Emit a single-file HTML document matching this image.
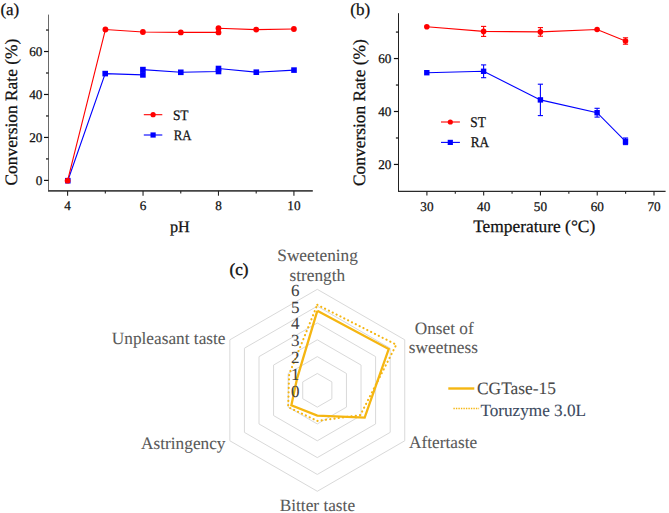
<!DOCTYPE html>
<html><head><meta charset="utf-8"><style>
html,body{margin:0;padding:0;background:#fff;width:669px;height:513px;overflow:hidden}
svg{display:block}
text{font-family:"Liberation Serif",serif;text-rendering:geometricPrecision}
</style></head><body>
<svg width="669" height="513" viewBox="0 0 669 513">
<rect width="669" height="513" fill="#fff"/>
<line x1="48.50" y1="14.60" x2="48.50" y2="191.00" stroke="#6a6a6a" stroke-width="1.0" />
<line x1="48.00" y1="190.90" x2="312.80" y2="190.90" stroke="#454545" stroke-width="1.6" />
<line x1="44.00" y1="180.40" x2="48.50" y2="180.40" stroke="#111" stroke-width="1.2" />
<text x="42.40" y="185.00" font-size="13.2" fill="#111" stroke="#111" stroke-width="0.25" text-anchor="end" >0</text>
<line x1="44.00" y1="137.44" x2="48.50" y2="137.44" stroke="#111" stroke-width="1.2" />
<text x="42.40" y="142.04" font-size="13.2" fill="#111" stroke="#111" stroke-width="0.25" text-anchor="end" >20</text>
<line x1="44.00" y1="94.48" x2="48.50" y2="94.48" stroke="#111" stroke-width="1.2" />
<text x="42.40" y="99.08" font-size="13.2" fill="#111" stroke="#111" stroke-width="0.25" text-anchor="end" >40</text>
<line x1="44.00" y1="51.52" x2="48.50" y2="51.52" stroke="#111" stroke-width="1.2" />
<text x="42.40" y="56.12" font-size="13.2" fill="#111" stroke="#111" stroke-width="0.25" text-anchor="end" >60</text>
<line x1="46.00" y1="158.92" x2="48.50" y2="158.92" stroke="#111" stroke-width="1.2" />
<line x1="46.00" y1="115.96" x2="48.50" y2="115.96" stroke="#111" stroke-width="1.2" />
<line x1="46.00" y1="73.00" x2="48.50" y2="73.00" stroke="#111" stroke-width="1.2" />
<line x1="46.00" y1="30.04" x2="48.50" y2="30.04" stroke="#111" stroke-width="1.2" />
<line x1="67.60" y1="190.90" x2="67.60" y2="195.70" stroke="#222" stroke-width="1.1" />
<text x="67.60" y="210.20" font-size="13.2" fill="#111" stroke="#111" stroke-width="0.25" text-anchor="middle" >4</text>
<line x1="143.04" y1="190.90" x2="143.04" y2="195.70" stroke="#222" stroke-width="1.1" />
<text x="143.04" y="210.20" font-size="13.2" fill="#111" stroke="#111" stroke-width="0.25" text-anchor="middle" >6</text>
<line x1="218.48" y1="190.90" x2="218.48" y2="195.70" stroke="#222" stroke-width="1.1" />
<text x="218.48" y="210.20" font-size="13.2" fill="#111" stroke="#111" stroke-width="0.25" text-anchor="middle" >8</text>
<line x1="293.92" y1="190.90" x2="293.92" y2="195.70" stroke="#222" stroke-width="1.1" />
<text x="293.92" y="210.20" font-size="13.2" fill="#111" stroke="#111" stroke-width="0.25" text-anchor="middle" >10</text>
<line x1="105.32" y1="190.90" x2="105.32" y2="193.60" stroke="#222" stroke-width="1.1" />
<line x1="180.76" y1="190.90" x2="180.76" y2="193.60" stroke="#222" stroke-width="1.1" />
<line x1="256.20" y1="190.90" x2="256.20" y2="193.60" stroke="#222" stroke-width="1.1" />
<text x="0.40" y="15.15" font-size="17" fill="#111" stroke="#111" stroke-width="0.25" text-anchor="start" >(a)</text>
<text x="179.90" y="232.40" font-size="16.2" fill="#111" stroke="#111" stroke-width="0.25" text-anchor="middle" >pH</text>
<text transform="translate(17.1,112.15) rotate(-90)" font-size="17.4" fill="#111" stroke="#111" stroke-width="0.25" text-anchor="middle">Conversion Rate (%)</text>
<polyline points="67.80,180.70 105.20,73.60 142.90,74.90 142.90,69.60 180.80,72.30 218.50,71.50 218.50,68.50 256.30,72.20 294.00,70.10" fill="none" stroke="#0000ff" stroke-width="1.1" stroke-linejoin="miter" />
<polyline points="67.60,180.70 105.40,29.50 142.90,32.00 180.80,32.40 218.50,32.40 218.50,28.20 256.20,29.60 293.90,29.00" fill="none" stroke="#ff0000" stroke-width="1.1" stroke-linejoin="miter" />
<rect x="65.00" y="177.90" width="5.6" height="5.6" fill="#0000ff"/>
<rect x="102.40" y="70.80" width="5.6" height="5.6" fill="#0000ff"/>
<rect x="140.10" y="72.10" width="5.6" height="5.6" fill="#0000ff"/>
<rect x="140.10" y="66.80" width="5.6" height="5.6" fill="#0000ff"/>
<rect x="178.00" y="69.50" width="5.6" height="5.6" fill="#0000ff"/>
<rect x="215.70" y="68.70" width="5.6" height="5.6" fill="#0000ff"/>
<rect x="215.70" y="65.70" width="5.6" height="5.6" fill="#0000ff"/>
<rect x="253.50" y="69.40" width="5.6" height="5.6" fill="#0000ff"/>
<rect x="291.20" y="67.30" width="5.6" height="5.6" fill="#0000ff"/>
<circle cx="67.60" cy="180.70" r="2.9" fill="#ff0000"/>
<circle cx="105.40" cy="29.50" r="2.9" fill="#ff0000"/>
<circle cx="142.90" cy="32.00" r="2.9" fill="#ff0000"/>
<circle cx="180.80" cy="32.40" r="2.9" fill="#ff0000"/>
<circle cx="218.50" cy="32.40" r="2.9" fill="#ff0000"/>
<circle cx="218.50" cy="28.20" r="2.9" fill="#ff0000"/>
<circle cx="256.20" cy="29.60" r="2.9" fill="#ff0000"/>
<circle cx="293.90" cy="29.00" r="2.9" fill="#ff0000"/>
<line x1="143.80" y1="114.70" x2="162.30" y2="114.70" stroke="#ff0000" stroke-width="1.1" />
<circle cx="153.10" cy="114.70" r="2.6" fill="#ff0000"/>
<text x="172.90" y="119.70" font-size="14.5" fill="#111" stroke="#111" stroke-width="0.25" text-anchor="start"  textLength="15.7" lengthAdjust="spacingAndGlyphs">ST</text>
<line x1="143.80" y1="135.00" x2="162.30" y2="135.00" stroke="#0000ff" stroke-width="1.1" />
<rect x="150.50" y="132.40" width="5.2" height="5.2" fill="#0000ff"/>
<text x="173.70" y="139.80" font-size="14.5" fill="#111" stroke="#111" stroke-width="0.25" text-anchor="start"  textLength="17.8" lengthAdjust="spacingAndGlyphs">RA</text>
<line x1="398.50" y1="13.20" x2="398.50" y2="192.00" stroke="#222" stroke-width="1.0" />
<line x1="398.00" y1="191.40" x2="665.60" y2="191.40" stroke="#2a2a2a" stroke-width="1.3" />
<line x1="393.90" y1="164.45" x2="398.50" y2="164.45" stroke="#111" stroke-width="1.2" />
<text x="391.40" y="169.15" font-size="13.2" fill="#111" stroke="#111" stroke-width="0.25" text-anchor="end" >20</text>
<line x1="393.90" y1="111.50" x2="398.50" y2="111.50" stroke="#111" stroke-width="1.2" />
<text x="391.40" y="116.20" font-size="13.2" fill="#111" stroke="#111" stroke-width="0.25" text-anchor="end" >40</text>
<line x1="393.90" y1="58.55" x2="398.50" y2="58.55" stroke="#111" stroke-width="1.2" />
<text x="391.40" y="63.25" font-size="13.2" fill="#111" stroke="#111" stroke-width="0.25" text-anchor="end" >60</text>
<line x1="395.90" y1="137.98" x2="398.50" y2="137.98" stroke="#111" stroke-width="1.2" />
<line x1="395.90" y1="85.03" x2="398.50" y2="85.03" stroke="#111" stroke-width="1.2" />
<line x1="395.90" y1="32.08" x2="398.50" y2="32.08" stroke="#111" stroke-width="1.2" />
<line x1="426.90" y1="191.40" x2="426.90" y2="195.50" stroke="#222" stroke-width="1.1" />
<text x="426.90" y="210.50" font-size="13.2" fill="#111" stroke="#111" stroke-width="0.25" text-anchor="middle" >30</text>
<line x1="483.67" y1="191.40" x2="483.67" y2="195.50" stroke="#222" stroke-width="1.1" />
<text x="483.67" y="210.50" font-size="13.2" fill="#111" stroke="#111" stroke-width="0.25" text-anchor="middle" >40</text>
<line x1="540.45" y1="191.40" x2="540.45" y2="195.50" stroke="#222" stroke-width="1.1" />
<text x="540.45" y="210.50" font-size="13.2" fill="#111" stroke="#111" stroke-width="0.25" text-anchor="middle" >50</text>
<line x1="597.23" y1="191.40" x2="597.23" y2="195.50" stroke="#222" stroke-width="1.1" />
<text x="597.23" y="210.50" font-size="13.2" fill="#111" stroke="#111" stroke-width="0.25" text-anchor="middle" >60</text>
<line x1="654.00" y1="191.40" x2="654.00" y2="195.50" stroke="#222" stroke-width="1.1" />
<text x="654.00" y="210.50" font-size="13.2" fill="#111" stroke="#111" stroke-width="0.25" text-anchor="middle" >70</text>
<line x1="455.29" y1="191.40" x2="455.29" y2="193.80" stroke="#222" stroke-width="1.1" />
<line x1="512.06" y1="191.40" x2="512.06" y2="193.80" stroke="#222" stroke-width="1.1" />
<line x1="568.84" y1="191.40" x2="568.84" y2="193.80" stroke="#222" stroke-width="1.1" />
<line x1="625.61" y1="191.40" x2="625.61" y2="193.80" stroke="#222" stroke-width="1.1" />
<text x="350.30" y="15.10" font-size="17" fill="#111" stroke="#111" stroke-width="0.25" text-anchor="start" >(b)</text>
<text x="534.20" y="232.40" font-size="17.4" fill="#111" stroke="#111" stroke-width="0.25" text-anchor="middle" >Temperature (°C)</text>
<text transform="translate(365.1,112.6) rotate(-90)" font-size="17.4" fill="#111" stroke="#111" stroke-width="0.25" text-anchor="middle">Conversion Rate (%)</text>
<polyline points="426.80,72.70 483.60,71.30 540.40,99.90 597.10,112.70 625.50,141.30" fill="none" stroke="#0000ff" stroke-width="1.1" stroke-linejoin="miter" />
<polyline points="426.80,26.80 483.60,31.40 540.40,31.90 597.10,29.50 625.50,41.00" fill="none" stroke="#ff0000" stroke-width="1.1" stroke-linejoin="miter" />
<rect x="424.10" y="70.00" width="5.4" height="5.4" fill="#0000ff"/>
<line x1="483.60" y1="64.90" x2="483.60" y2="77.70" stroke="#0000ff" stroke-width="1.1" />
<line x1="481.00" y1="64.90" x2="486.20" y2="64.90" stroke="#0000ff" stroke-width="1.1" />
<line x1="481.00" y1="77.70" x2="486.20" y2="77.70" stroke="#0000ff" stroke-width="1.1" />
<rect x="480.90" y="68.60" width="5.4" height="5.4" fill="#0000ff"/>
<line x1="540.40" y1="84.20" x2="540.40" y2="115.60" stroke="#0000ff" stroke-width="1.1" />
<line x1="537.80" y1="84.20" x2="543.00" y2="84.20" stroke="#0000ff" stroke-width="1.1" />
<line x1="537.80" y1="115.60" x2="543.00" y2="115.60" stroke="#0000ff" stroke-width="1.1" />
<rect x="537.70" y="97.20" width="5.4" height="5.4" fill="#0000ff"/>
<line x1="597.10" y1="108.30" x2="597.10" y2="117.10" stroke="#0000ff" stroke-width="1.1" />
<line x1="594.50" y1="108.30" x2="599.70" y2="108.30" stroke="#0000ff" stroke-width="1.1" />
<line x1="594.50" y1="117.10" x2="599.70" y2="117.10" stroke="#0000ff" stroke-width="1.1" />
<rect x="594.40" y="110.00" width="5.4" height="5.4" fill="#0000ff"/>
<line x1="625.50" y1="138.00" x2="625.50" y2="144.60" stroke="#0000ff" stroke-width="1.1" />
<line x1="622.90" y1="138.00" x2="628.10" y2="138.00" stroke="#0000ff" stroke-width="1.1" />
<line x1="622.90" y1="144.60" x2="628.10" y2="144.60" stroke="#0000ff" stroke-width="1.1" />
<rect x="622.80" y="138.60" width="5.4" height="5.4" fill="#0000ff"/>
<circle cx="426.80" cy="26.80" r="2.8" fill="#ff0000"/>
<line x1="483.60" y1="26.40" x2="483.60" y2="36.40" stroke="#ff0000" stroke-width="1.1" />
<line x1="481.00" y1="26.40" x2="486.20" y2="26.40" stroke="#ff0000" stroke-width="1.1" />
<line x1="481.00" y1="36.40" x2="486.20" y2="36.40" stroke="#ff0000" stroke-width="1.1" />
<circle cx="483.60" cy="31.40" r="2.8" fill="#ff0000"/>
<line x1="540.40" y1="27.60" x2="540.40" y2="36.20" stroke="#ff0000" stroke-width="1.1" />
<line x1="537.80" y1="27.60" x2="543.00" y2="27.60" stroke="#ff0000" stroke-width="1.1" />
<line x1="537.80" y1="36.20" x2="543.00" y2="36.20" stroke="#ff0000" stroke-width="1.1" />
<circle cx="540.40" cy="31.90" r="2.8" fill="#ff0000"/>
<circle cx="597.10" cy="29.50" r="2.8" fill="#ff0000"/>
<line x1="625.50" y1="37.80" x2="625.50" y2="44.20" stroke="#ff0000" stroke-width="1.1" />
<line x1="622.90" y1="37.80" x2="628.10" y2="37.80" stroke="#ff0000" stroke-width="1.1" />
<line x1="622.90" y1="44.20" x2="628.10" y2="44.20" stroke="#ff0000" stroke-width="1.1" />
<circle cx="625.50" cy="41.00" r="2.8" fill="#ff0000"/>
<line x1="441.00" y1="122.00" x2="459.90" y2="122.00" stroke="#ff0000" stroke-width="1.1" />
<circle cx="450.30" cy="122.00" r="2.6" fill="#ff0000"/>
<text x="470.30" y="127.40" font-size="14.8" fill="#111" stroke="#111" stroke-width="0.25" text-anchor="start"  textLength="15.6" lengthAdjust="spacingAndGlyphs">ST</text>
<line x1="441.00" y1="142.40" x2="459.90" y2="142.40" stroke="#0000ff" stroke-width="1.1" />
<rect x="447.70" y="139.80" width="5.2" height="5.2" fill="#0000ff"/>
<text x="470.70" y="147.40" font-size="14.8" fill="#111" stroke="#111" stroke-width="0.25" text-anchor="start"  textLength="18.4" lengthAdjust="spacingAndGlyphs">RA</text>
<polyline points="317.30,373.47 331.88,381.88 331.88,398.72 317.30,407.13 302.72,398.72 302.72,381.88 317.30,373.47" fill="none" stroke="#d9d9d9" stroke-width="1" stroke-linejoin="miter" />
<polyline points="317.30,356.64 346.45,373.47 346.45,407.13 317.30,423.96 288.15,407.13 288.15,373.47 317.30,356.64" fill="none" stroke="#d9d9d9" stroke-width="1" stroke-linejoin="miter" />
<polyline points="317.30,339.81 361.03,365.06 361.03,415.55 317.30,440.79 273.57,415.55 273.57,365.06 317.30,339.81" fill="none" stroke="#d9d9d9" stroke-width="1" stroke-linejoin="miter" />
<polyline points="317.30,322.98 375.60,356.64 375.60,423.96 317.30,457.62 259.00,423.96 259.00,356.64 317.30,322.98" fill="none" stroke="#d9d9d9" stroke-width="1" stroke-linejoin="miter" />
<polyline points="317.30,306.15 390.18,348.23 390.18,432.38 317.30,474.45 244.42,432.38 244.42,348.23 317.30,306.15" fill="none" stroke="#d9d9d9" stroke-width="1" stroke-linejoin="miter" />
<polyline points="317.30,289.32 404.75,339.81 404.75,440.79 317.30,491.28 229.85,440.79 229.85,339.81 317.30,289.32" fill="none" stroke="#d9d9d9" stroke-width="1" stroke-linejoin="miter" />
<polyline points="317.30,304.80 396.30,344.69 360.30,415.12 317.30,420.93 288.15,407.13 289.17,374.06 317.30,304.80" fill="none" stroke="#f5b612" stroke-width="2.1" stroke-linejoin="miter" stroke-dasharray="0.2 4.1" stroke-linecap="round"/>
<polyline points="317.30,310.86 388.72,349.07 364.67,417.65 317.30,415.55 291.36,405.28 297.04,378.60 317.30,310.86" fill="none" stroke="#f5b612" stroke-width="2.3" stroke-linejoin="miter" />
<text x="317.60" y="260.50" font-size="17.3" fill="#595959" stroke="#595959" stroke-width="0.08" text-anchor="middle" >Sweetening</text>
<text x="317.30" y="280.50" font-size="17.3" fill="#595959" stroke="#595959" stroke-width="0.08" text-anchor="middle" >strength</text>
<text x="444.20" y="333.60" font-size="17.3" fill="#595959" stroke="#595959" stroke-width="0.08" text-anchor="middle" >Onset of</text>
<text x="443.40" y="353.30" font-size="17.3" fill="#595959" stroke="#595959" stroke-width="0.08" text-anchor="middle" >sweetness</text>
<text x="409.00" y="448.30" font-size="17.3" fill="#595959" stroke="#595959" stroke-width="0.08" text-anchor="start" >Aftertaste</text>
<text x="317.40" y="511.00" font-size="17.3" fill="#595959" stroke="#595959" stroke-width="0.08" text-anchor="middle" >Bitter taste</text>
<text x="225.50" y="448.60" font-size="17.3" fill="#595959" stroke="#595959" stroke-width="0.08" text-anchor="end" >Astringency</text>
<text x="225.50" y="343.50" font-size="17.3" fill="#595959" stroke="#595959" stroke-width="0.08" text-anchor="end" >Unpleasant taste</text>
<text x="229.60" y="275.00" font-size="17" fill="#111" stroke="#111" stroke-width="0.4" text-anchor="start" >(c)</text>
<line x1="448.30" y1="388.50" x2="474.30" y2="388.50" stroke="#f5b612" stroke-width="2.4" />
<line x1="453.40" y1="408.50" x2="479.10" y2="408.50" stroke="#f5b612" stroke-width="1.5" stroke-dasharray="1.4 1.1"/>
<text x="477.00" y="393.90" font-size="17.4" fill="#4a4a4a" stroke="#4a4a4a" stroke-width="0.1" text-anchor="start" >CGTase-15</text>
<text x="480.40" y="415.90" font-size="17.2" fill="#3b4a60" stroke="#3b4a60" stroke-width="0.1" text-anchor="start" >Toruzyme 3.0L</text>
<text x="299.60" y="396.70" font-size="17" fill="#404040" stroke="#404040" stroke-width="0.05" text-anchor="end" >0</text>
<text x="299.60" y="379.87" font-size="17" fill="#404040" stroke="#404040" stroke-width="0.05" text-anchor="end" >1</text>
<text x="299.60" y="363.04" font-size="17" fill="#404040" stroke="#404040" stroke-width="0.05" text-anchor="end" >2</text>
<text x="299.60" y="346.21" font-size="17" fill="#404040" stroke="#404040" stroke-width="0.05" text-anchor="end" >3</text>
<text x="299.60" y="329.38" font-size="17" fill="#404040" stroke="#404040" stroke-width="0.05" text-anchor="end" >4</text>
<text x="299.60" y="312.55" font-size="17" fill="#404040" stroke="#404040" stroke-width="0.05" text-anchor="end" >5</text>
<text x="299.60" y="295.72" font-size="17" fill="#404040" stroke="#404040" stroke-width="0.05" text-anchor="end" >6</text>
</svg>
</body></html>
